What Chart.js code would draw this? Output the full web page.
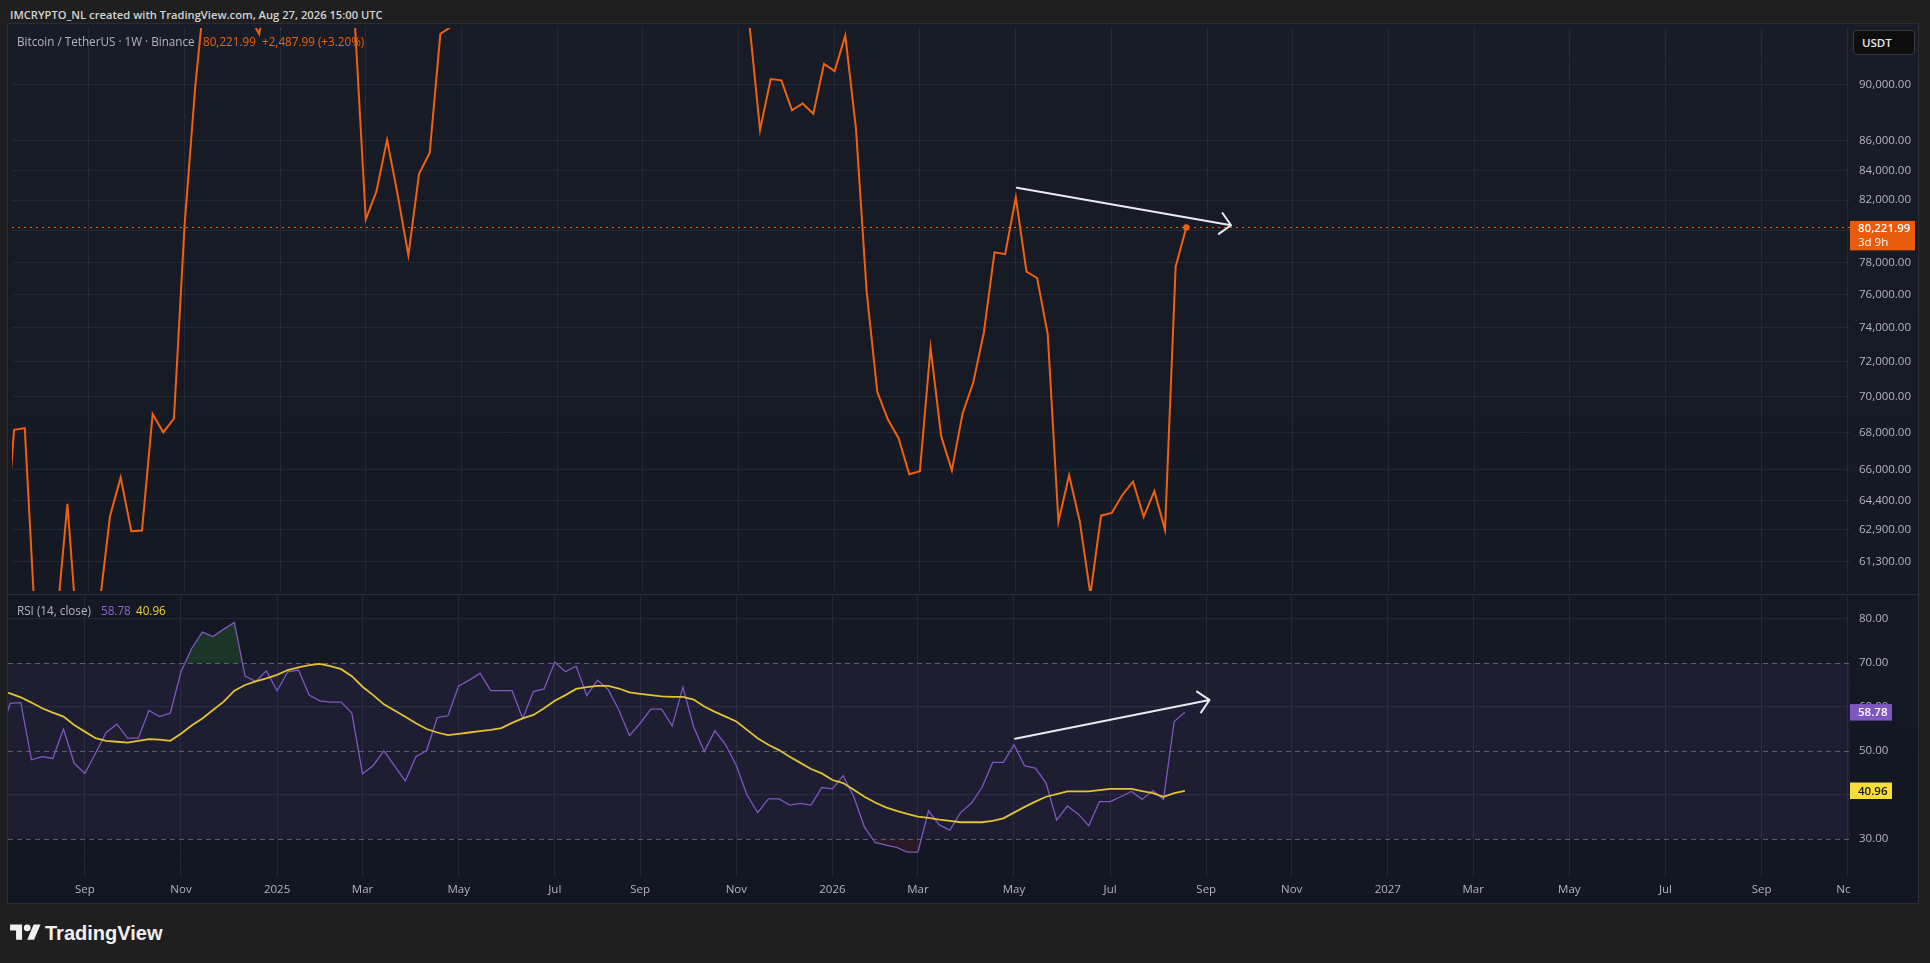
<!DOCTYPE html>
<html>
<head>
<meta charset="utf-8">
<title>BTCUSDT 1W</title>
<script src="https://cdn.jsdelivr.net/npm/chart.js@4.4.1/dist/chart.umd.min.js"></script>
<style>
  body { margin: 0; width: 1930px; height: 963px; background: #1f1f1f; position: relative; overflow: hidden;
         font-family: "Open Sans", "Liberation Sans", Arial, sans-serif; }
  .abs { position: absolute; white-space: nowrap; }
  #top { left: 10px; top: 7px; font-size: 11.2px; font-weight: 600; color: #d4d4d4; line-height: 16px; }
  #panel { left: 7px; top: 23px; width: 1912px; height: 881px; box-sizing: border-box;
           border: 1px solid #2a2d36; background: linear-gradient(#181c27, #131722); }
  canvas { position: absolute; left: 8px; }
  #priceCanvas { top: 24px; }
  #rsiCanvas { top: 595px; }
  #sep { left: 8px; top: 594px; width: 1910px; height: 1px; background: #2a2e39; }
  .leg { font-size: 11.7px; line-height: 14px; }
  #usdt { left: 1853px; top: 30px; width: 62px; height: 25px; box-sizing: border-box; border: 1px solid #3a3a3a;
          border-radius: 4px; background: #0e0e0e; color: #e6e6e6; font-size: 11.5px; font-weight: 600;
          line-height: 23px; padding-left: 8px; }
  #logo { left: 10px; top: 921px; color: #f0f0f0; font-family: "Liberation Sans", Arial, sans-serif;
          font-size: 20px; font-weight: bold; line-height: 24px; }
  #logo svg { vertical-align: top; margin-right: 4px; }
</style>
</head>
<body>
<div id="top" class="abs">IMCRYPTO_NL created with TradingView.com, Aug 27, 2026 15:00 UTC</div>
<div id="panel" class="abs"></div>
<canvas id="priceCanvas" width="1910" height="571"></canvas>
<canvas id="rsiCanvas" width="1910" height="308"></canvas>
<div id="sep" class="abs"></div>

<div class="abs leg" style="left:17px;top:34px;color:#b2b5be">Bitcoin / TetherUS · 1W · Binance</div>
<div class="abs leg" style="left:203px;top:34px;color:#f0600e">80,221.99</div>
<div class="abs leg" style="left:262px;top:34px;color:#f0600e">+2,487.99 (+3.20%)</div>
<div id="usdt" class="abs">USDT</div>

<div class="abs leg" style="left:17px;top:603px;color:#b2b5be">RSI (14, close)</div>
<div class="abs leg" style="left:101px;top:603px;color:#8c68d2">58.78</div>
<div class="abs leg" style="left:136px;top:603px;color:#f2d03c">40.96</div>

<div id="logo" class="abs"><svg width="31" height="24" viewBox="0 0 36 28"><path d="M14 22H7V11H0V4h14v18z" fill="#f0f0f0"/><circle cx="20" cy="8" r="4" fill="#f0f0f0"/><path d="M28 22h-8l7.5-18h8z" fill="#f0f0f0"/></svg>TradingView</div>

<script>
// weekly bars, index 0 = week of 15 Jul 2024, first value is index -2
const firstWeek = -2;

// weekly closes (USDT)
const closes = [
  55850, 60800,
  68165, 68255, 58161, 58712, 58427, 64220, 57301, 54869, 59132, 63578,      // 0-9
  65602, 62819, 62852, 69032, 68022, 68776, 80370, 89855, 97900, 97185,      // 10-19
  101109, 104463, 95186, 93738, 98363, 94488, 101331, 102620, 97700, 96462, // 20-29
  96118, 96258, 94270, 80734, 82576, 86082, 82336, 78430, 83760, 85180,      // 30-39
  93750, 94280, 104100, 106450, 109000, 104640, 105600, 105500, 100960, 108380, // 40-49
  109200, 119800, 117300, 119450, 114200, 119300, 117400, 113500, 108250, 111150, // 50-59
  115350, 115300, 112200, 123500, 115150, 108650, 114500, 110550, 104700, 94500, // 60-69
  86770, 90400, 90300, 88150, 88640, 87910, 91500, 90980, 93620, 86860,      // 70-79
  76210, 70270, 68730, 67700, 65770, 65930, 72820, 67800, 65970, 69050,      // 80-89
  70790, 73700, 78630, 78510, 82180, 77420, 77020, 73590, 63290, 65710,      // 90-99
  63330, 59700, 63610, 63750, 64680, 65380, 63550, 64880, 62880, 77734,      // 100-109
  80221.99                                                                   // 110
];

// RSI(14)
const rsiValues = [
  45.0, 53.0,
  60.8, 61.0, 48.0, 48.7, 48.3, 55.0, 47.2, 44.9, 49.5, 54.2,
  56.1, 52.9, 52.9, 59.2, 57.8, 58.6, 68.0, 73.3, 77.0, 76.0,
  77.7, 79.2, 67.0, 65.8, 68.2, 63.7, 68.0, 68.4, 62.7, 61.4,
  61.1, 61.1, 58.6, 44.8, 46.7, 50.0, 46.6, 43.2, 48.7, 50.1,
  57.6, 58.0, 64.8, 66.1, 67.7, 63.7, 63.7, 63.7, 57.4, 63.5,
  64.1, 70.2, 68.0, 69.3, 62.6, 66.1, 64.0, 59.3, 53.5, 56.3,
  59.5, 59.5, 55.7, 64.5, 55.5, 49.9, 54.6, 51.4, 46.7, 40.0,
  36.0, 39.1, 39.1, 37.7, 38.1, 37.7, 41.7, 41.4, 44.4, 39.6,
  32.7, 29.2, 28.6, 28.1, 27.0, 27.0, 36.4, 33.2, 32.0, 36.0,
  38.1, 41.7, 47.4, 47.4, 51.4, 46.6, 46.1, 42.7, 34.3, 37.5,
  35.7, 33.0, 38.5, 38.5, 39.6, 40.8, 39.0, 41.0, 39.0, 56.7,
  58.78
];

// RSI-based MA
const rsiMa = [
  64.2, 63.7,
  63.1, 62.2, 61.0, 59.7, 58.7, 57.8, 55.9, 54.4, 52.9, 52.3,
  52.1, 51.9, 52.3, 52.7, 52.6, 52.3, 53.9, 55.8, 57.4, 59.3,
  61.2, 63.7, 65.0, 65.8, 66.5, 67.3, 68.4, 69.0, 69.5, 69.8,
  69.3, 68.6, 67.0, 64.6, 62.7, 60.6, 59.2, 57.8, 56.3, 55.0,
  54.2, 53.6, 53.9, 54.2, 54.5, 54.8, 55.2, 56.4, 57.4, 58.2,
  59.7, 61.4, 62.7, 64.1, 64.5, 64.8, 64.8, 64.2, 63.3, 63.0,
  62.7, 62.4, 62.3, 62.3, 61.7, 60.1, 58.9, 57.8, 56.7, 54.8,
  52.9, 51.4, 50.2, 48.7, 47.3, 45.9, 44.9, 43.4, 42.7, 41.2,
  39.6, 38.3, 37.2, 36.4, 35.7, 35.1, 34.8, 34.4, 34.1, 33.8,
  33.8, 33.8, 34.1, 34.7, 36.0, 37.3, 38.5, 39.6, 40.2, 40.8,
  40.8, 40.8, 41.1, 41.4, 41.4, 41.4, 40.9, 40.4, 39.6, 40.4,
  40.96
];

// time axis: week index of first bar of each labelled month
const tickWeeks = [7, 16, 25, 33, 42, 51, 59, 68, 77, 85, 94, 103, 112, 120, 129, 137, 146, 155, 164, 172];
const tickLabels = ["Sep", "Nov", "2025", "Mar", "May", "Jul", "Sep", "Nov", "2026", "Mar",
                    "May", "Jul", "Sep", "Nov", "2027", "Mar", "May", "Jul", "Sep", "Nov"];
const priceTicks = [61300, 62900, 64400, 66000, 68000, 70000, 72000, 74000, 76000, 78000,
                    80000, 82000, 84000, 86000, 90000];
const rsiTicks = [30, 40, 50, 60, 70, 80];
const rsiLevels = [30, 50, 70];

// drawn trend arrows [week, value]
const priceArrow = [[94.1, 82830], [114.2, 80360]];
const rsiArrow = [[94.1, 52.8], [112.3, 61.6]];

const xMin = -0.197, xMax = 172.28;
const ORANGE = "#f0600e";
const GRID = "rgba(42,46,57,0.75)";
const TXT = "#b2b5be";
const FONT = '"Open Sans", "Liberation Sans", Arial, sans-serif';

Chart.defaults.font.family = FONT;
Chart.defaults.font.size = 11.5;

const pts = (arr) => arr.map((v, k) => ({ x: firstWeek + k, y: v }));

function xAxis(showLabels) {
  return {
    type: "linear",
    min: xMin,
    max: xMax,
    afterBuildTicks: (s) => { s.ticks = tickWeeks.map((v) => ({ value: v })); },
    ticks: {
      display: showLabels,
      autoSkip: false,
      maxRotation: 0,
      padding: 6,
      color: TXT,
      callback: (v, i) => tickLabels[i],
    },
    grid: { color: GRID, drawTicks: false },
    border: { display: false },
    afterFit: (s) => {
      s.height = showLabels ? 26 : 0;
      s.paddingLeft = 0;
      s.paddingRight = 0;
    },
  };
}

function fitRight(s) {
  s.width = 68;
  s.paddingTop = 0;
  s.paddingBottom = 0;
}

function drawArrow(ctx, x1, y1, x2, y2) {
  const ang = Math.atan2(y2 - y1, x2 - x1);
  ctx.save();
  ctx.strokeStyle = "#e9ebf0";
  ctx.lineWidth = 2;
  ctx.lineCap = "round";
  ctx.beginPath();
  ctx.moveTo(x1, y1);
  ctx.lineTo(x2, y2);
  [-1, 1].forEach((d) => {
    const a = ang + Math.PI + (d * Math.PI) / 4;
    ctx.moveTo(x2, y2);
    ctx.lineTo(x2 + 15 * Math.cos(a), y2 + 15 * Math.sin(a));
  });
  ctx.stroke();
  ctx.restore();
}

function axisBox(ctx, left, yc, w, h, bg, fg, text) {
  ctx.fillStyle = bg;
  ctx.fillRect(left, yc - h / 2, w, h);
  ctx.fillStyle = fg;
  ctx.textBaseline = "middle";
  ctx.textAlign = "left";
  ctx.font = "600 11.5px " + FONT;
  ctx.fillText(text, left + 8, yc + 0.5);
}

// price pane
const priceDecor = {
  id: "priceDecor",
  beforeDatasetsDraw(chart) {
    const { ctx, chartArea: a, scales: { y } } = chart;
    const py = Math.round(y.getPixelForValue(closes[closes.length - 1])) + 0.5;
    ctx.save();
    ctx.strokeStyle = ORANGE;
    ctx.lineWidth = 1;
    ctx.setLineDash([2, 4]);
    ctx.beginPath();
    ctx.moveTo(a.left, py);
    ctx.lineTo(a.right, py);
    ctx.stroke();
    ctx.restore();
  },
  afterDatasetsDraw(chart) {
    const { ctx, scales: { x, y } } = chart;
    drawArrow(ctx,
      x.getPixelForValue(priceArrow[0][0]), y.getPixelForValue(priceArrow[0][1]),
      x.getPixelForValue(priceArrow[1][0]), y.getPixelForValue(priceArrow[1][1]));
  },
  afterDraw(chart) {
    const { ctx, chartArea: a, scales: { y } } = chart;
    const last = closes[closes.length - 1];
    const py = y.getPixelForValue(last);
    ctx.save();
    ctx.fillStyle = "#e85a0c";
    ctx.fillRect(a.right, py - 6.5, 65, 29.5);
    ctx.fillStyle = "#ffffff";
    ctx.textBaseline = "middle";
    ctx.font = "600 11.5px " + FONT;
    ctx.fillText(last.toLocaleString("en-US", { minimumFractionDigits: 2 }), a.right + 8, py + 1);
    ctx.font = "11.5px " + FONT;
    ctx.fillText("3d 9h", a.right + 8, py + 15);
    ctx.restore();
  },
};

new Chart(document.getElementById("priceCanvas"), {
  type: "line",
  data: {
    datasets: [{
      data: pts(closes),
      borderColor: ORANGE,
      borderWidth: 2,
      pointRadius: (c) => (c.dataIndex === closes.length - 1 ? 3.2 : 0),
      pointBackgroundColor: ORANGE,
      pointBorderWidth: 0,
      fill: false,
      clip: 0,
    }],
  },
  options: {
    responsive: false,
    animation: false,
    events: [],
    layout: { padding: 0 },
    plugins: { legend: { display: false }, tooltip: { enabled: false } },
    scales: {
      x: xAxis(false),
      y: {
        type: "logarithmic",
        position: "right",
        min: 59868,
        max: 94188,
        afterBuildTicks: (s) => { s.ticks = priceTicks.map((v) => ({ value: v })); },
        ticks: {
          color: TXT,
          padding: 9,
          callback: (v) => v.toLocaleString("en-US", { minimumFractionDigits: 2, maximumFractionDigits: 2 }),
        },
        grid: { color: GRID, drawTicks: false },
        border: { display: false },
        afterFit: fitRight,
      },
    },
  },
  plugins: [priceDecor],
});

// RSI pane
const rsiDecor = {
  id: "rsiDecor",
  beforeDatasetsDraw(chart) {
    const { ctx, chartArea: a, scales: { y } } = chart;
    const y70 = y.getPixelForValue(70), y30 = y.getPixelForValue(30);
    ctx.save();
    ctx.fillStyle = "rgba(126,87,194,0.1)";
    ctx.fillRect(a.left, y70, a.right - a.left, y30 - y70);
    ctx.strokeStyle = "rgba(120,123,134,0.7)";
    ctx.lineWidth = 1;
    ctx.setLineDash([5, 4]);
    rsiLevels.forEach((lv) => {
      const py = Math.round(y.getPixelForValue(lv)) + 0.5;
      ctx.beginPath();
      ctx.moveTo(a.left, py);
      ctx.lineTo(a.right, py);
      ctx.stroke();
    });
    ctx.restore();
  },
  afterDatasetsDraw(chart) {
    const { ctx, scales: { x, y } } = chart;
    drawArrow(ctx,
      x.getPixelForValue(rsiArrow[0][0]), y.getPixelForValue(rsiArrow[0][1]),
      x.getPixelForValue(rsiArrow[1][0]), y.getPixelForValue(rsiArrow[1][1]));
  },
  afterDraw(chart) {
    const { ctx, chartArea: a, scales: { y }, width, height } = chart;
    ctx.save();
    // hide the part of the last time label that runs under the price scale
    ctx.fillStyle = "#131722";
    ctx.fillRect(a.right, a.bottom, width - a.right, height - a.bottom);
    const r = rsiValues[rsiValues.length - 1], m = rsiMa[rsiMa.length - 1];
    axisBox(ctx, a.right, y.getPixelForValue(r), 42, 16.5, "#7e57c2", "#ffffff", r.toFixed(2));
    axisBox(ctx, a.right, y.getPixelForValue(m), 42, 16.5, "#f9dc3a", "#131722", m.toFixed(2));
    ctx.restore();
  },
};

new Chart(document.getElementById("rsiCanvas"), {
  type: "line",
  data: {
    datasets: [
      {
        data: pts(rsiMa),
        borderColor: "#e3c234",
        borderWidth: 1.8,
        pointRadius: 0,
        fill: false,
        order: 1,
        clip: 0,
      },
      {
        data: pts(rsiValues),
        borderColor: "#7e57c2",
        borderWidth: 1.3,
        pointRadius: 0,
        fill: { target: { value: 70 }, above: "rgba(46,125,50,0.3)", below: "rgba(0,0,0,0)" },
        order: 2,
        clip: 0,
      },
      {
        data: pts(rsiValues),
        borderColor: "rgba(0,0,0,0)",
        borderWidth: 0,
        pointRadius: 0,
        fill: { target: { value: 30 }, above: "rgba(0,0,0,0)", below: "rgba(200,40,50,0.12)" },
        order: 3,
        clip: 0,
      },
    ],
  },
  options: {
    responsive: false,
    animation: false,
    events: [],
    layout: { padding: 0 },
    plugins: { legend: { display: false }, tooltip: { enabled: false } },
    scales: {
      x: xAxis(true),
      y: {
        type: "linear",
        position: "right",
        min: 21.36,
        max: 85.45,
        afterBuildTicks: (s) => { s.ticks = rsiTicks.map((v) => ({ value: v })); },
        ticks: { color: TXT, padding: 9, callback: (v) => v.toFixed(2) },
        grid: {
          color: (c) => (rsiLevels.includes(c.tick && c.tick.value) ? "rgba(0,0,0,0)" : GRID),
          drawTicks: false,
        },
        border: { display: false },
        afterFit: fitRight,
      },
    },
  },
  plugins: [rsiDecor],
});
</script>
</body>
</html>
